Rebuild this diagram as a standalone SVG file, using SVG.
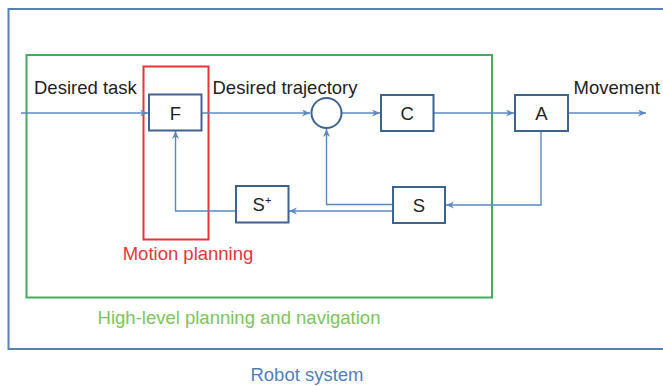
<svg xmlns="http://www.w3.org/2000/svg" width="663" height="386" viewBox="0 0 663 386">
  <style>
    text { font-family: "Liberation Sans", Arial, sans-serif; font-size: 18.5px; }
    .lbl { fill: #222222; }
    .box { fill: #ffffff; stroke: #3d6391; stroke-width: 2; }
    .wire { fill: none; stroke: #5b88c2; stroke-width: 1.4; }
    .mid { text-anchor: middle; }
  </style>
  <defs>
    <marker id="arrow" markerUnits="userSpaceOnUse" markerWidth="10" markerHeight="8" refX="8" refY="3.5" orient="auto">
      <path d="M0,0 L8,3.5 L0,7 L2.5,3.5 z" fill="#5b88c2"/>
    </marker>
  </defs>

  <!-- system boundaries -->
  <g id="robot-system">
    <rect x="8.5" y="9" width="670" height="340" fill="none" stroke="#5580b8" stroke-width="2"/>
    <text x="307" y="381" class="mid" fill="#4f7fbc">Robot system</text>
  </g>
  <g id="high-level">
    <rect x="26.5" y="55" width="465.5" height="242.5" fill="none" stroke="#45ab58" stroke-width="2"/>
    <text x="239" y="324" class="mid" fill="#7cc55a">High-level planning and navigation</text>
  </g>
  <g id="motion-planning">
    <rect x="143.5" y="66.5" width="65" height="173" fill="none" stroke="#e8343a" stroke-width="2"/>
    <text x="188" y="260" class="mid" fill="#e8343a">Motion planning</text>
  </g>

  <!-- connectors -->
  <g id="connectors">
    <line class="wire" x1="21" y1="113" x2="148" y2="113" marker-end="url(#arrow)"/>
    <line class="wire" x1="201" y1="113" x2="310" y2="113" marker-end="url(#arrow)"/>
    <line class="wire" x1="341" y1="113" x2="380" y2="113" marker-end="url(#arrow)"/>
    <line class="wire" x1="433" y1="113" x2="514" y2="113" marker-end="url(#arrow)"/>
    <line class="wire" x1="568" y1="113" x2="646" y2="113" marker-end="url(#arrow)"/>
    <polyline class="wire" points="541,131 541,205 446,205" marker-end="url(#arrow)"/>
    <polyline class="wire" points="393,204.5 326.5,204.5 326.5,129" marker-end="url(#arrow)"/>
    <line class="wire" x1="393" y1="211" x2="289" y2="211" marker-end="url(#arrow)"/>
    <polyline class="wire" points="236,211 175.5,211 175.5,131" marker-end="url(#arrow)"/>
  </g>

  <!-- signal labels -->
  <g id="signal-labels">
    <text x="34" y="94" class="lbl">Desired task</text>
    <text x="212.5" y="94" class="lbl">Desired trajectory</text>
    <text x="573.5" y="94" class="lbl">Movement</text>
  </g>

  <!-- blocks -->
  <g id="node-F">
    <rect class="box" x="149" y="94.5" width="52.5" height="36"/>
    <text x="175.3" y="119.5" class="lbl mid">F</text>
  </g>
  <g id="node-sum">
    <circle cx="326.5" cy="113" r="15" fill="#ffffff" stroke="#3d6391" stroke-width="2"/>
  </g>
  <g id="node-C">
    <rect class="box" x="381" y="95" width="52.5" height="36"/>
    <text x="407.3" y="119.5" class="lbl mid">C</text>
  </g>
  <g id="node-A">
    <rect class="box" x="515" y="95" width="53" height="36"/>
    <text x="541.5" y="119.5" class="lbl mid">A</text>
  </g>
  <g id="node-S">
    <rect class="box" x="393" y="187" width="52" height="36"/>
    <text x="419" y="211.5" class="lbl mid">S</text>
  </g>
  <g id="node-Splus">
    <rect class="box" x="236" y="186" width="52.5" height="36.5"/>
    <text x="262" y="211" class="lbl mid">S<tspan font-size="11" dy="-7">+</tspan></text>
  </g>
</svg>
